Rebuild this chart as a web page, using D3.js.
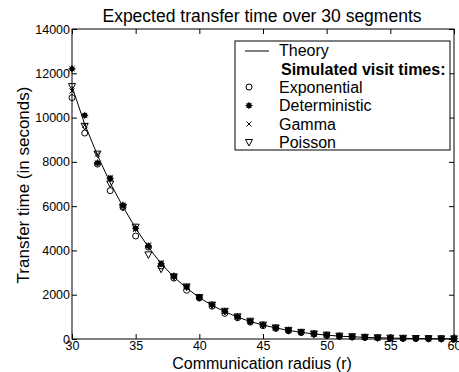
<!DOCTYPE html>
<html>
<head>
<meta charset="utf-8">
<script src="https://cdn.jsdelivr.net/npm/d3@7"></script>
<style>
  body { margin: 0; background: #fff; }
  svg { font-family: "Liberation Sans", Arial, Helvetica, sans-serif; }
  .tick line { stroke: #000; }
  .domain { stroke: none; }
</style>
</head>
<body>
<svg id="chart"></svg>
<script>
// communication radius r
const radius = [30, 31, 32, 33, 34, 35, 36, 37, 38, 39, 40, 41, 42, 43, 44, 45,
  46, 47, 48, 49, 50, 51, 52, 53, 54, 55, 56, 57, 58, 59, 60];

// expected transfer time (s)
const theory = [11400, 9700, 8300, 7050, 5980, 5000, 4150, 3400, 2800, 2300, 1870,
  1520, 1230, 990, 790, 630, 500, 390, 300, 230, 175, 130, 100, 75, 55, 40, 30, 22, 16, 11, 8];
const exponential = [10900, 9300, 7900, 6700, 5950, 4650, 4150, 3300, 2750, 2200, 1850,
  1480, 1160, 960, 760, 600, 480, 370, 290, 220, 160, 125, 95, 70, 52, 38, 28, 20, 15, 10, 7];
const deterministic = [12200, 10100, 7950, 7250, 6050, 5000, 4200, 3400, 2850, 2350, 1880,
  1550, 1250, 1000, 800, 640, 505, 395, 305, 235, 178, 132, 100, 76, 56, 41, 30, 22, 16, 11, 8];
const gamma = [11200, 9650, 8350, 7300, 6000, 4950, 4250, 3450, 2820, 2380, 1900,
  1540, 1240, 1000, 790, 625, 500, 390, 300, 232, 175, 130, 98, 74, 54, 40, 29, 21, 15, 11, 8];
const poisson = [11400, 9600, 8350, 7000, 5950, 5050, 3800, 3150, 2800, 2350, 1870,
  1530, 1250, 1000, 800, 630, 500, 390, 300, 230, 175, 130, 100, 75, 55, 40, 30, 22, 16, 11, 8];

const xTicks = [30, 35, 40, 45, 50, 55, 60];
const yTicks = [0, 2000, 4000, 6000, 8000, 10000, 12000, 14000];

const W = 459, H = 372;
const MARGIN = {left: 72, right: 5, top: 29, bottom: 33};

const svg = d3.select('#chart').attr('width', W).attr('height', H);

const x = d3.scaleLinear().domain([30, 60]).range([MARGIN.left, W - MARGIN.right]);
const y = d3.scaleLinear().domain([0, 14000]).range([H - MARGIN.bottom, MARGIN.top]);

// axes with inward ticks, MATLAB style
svg.append('g')
  .attr('transform', `translate(0,${H - MARGIN.bottom})`)
  .call(d3.axisBottom(x).tickValues(xTicks).tickSizeInner(-5).tickSizeOuter(0).tickPadding(2))
  .attr('font-size', 12.5);
svg.append('g')
  .attr('transform', `translate(0,${MARGIN.top})`)
  .call(d3.axisTop(x).tickValues(xTicks).tickSizeInner(-5).tickSizeOuter(0).tickFormat(''));
svg.append('g')
  .attr('transform', `translate(${MARGIN.left},0)`)
  .call(d3.axisLeft(y).tickValues(yTicks).tickSizeInner(-5).tickSizeOuter(0).tickPadding(2).tickFormat(d3.format('d')))
  .attr('font-size', 12.5);
svg.append('g')
  .attr('transform', `translate(${W - MARGIN.right},0)`)
  .call(d3.axisRight(y).tickValues(yTicks).tickSizeInner(-5).tickSizeOuter(0).tickFormat(''));
svg.selectAll('.tick text').attr('fill', '#000');

svg.append('rect')
  .attr('x', MARGIN.left).attr('y', MARGIN.top)
  .attr('width', W - MARGIN.left - MARGIN.right)
  .attr('height', H - MARGIN.top - MARGIN.bottom)
  .attr('fill', 'none').attr('stroke', '#000').attr('stroke-width', 1);

// theory curve
svg.append('path')
  .datum(radius)
  .attr('fill', 'none').attr('stroke', '#000').attr('stroke-width', 1)
  .attr('d', d3.line().x(r => x(r)).y((r, i) => y(theory[i])));

// marker shapes
const markers = {
  circle: (g) => g.append('circle').attr('r', 3).attr('fill', 'none').attr('stroke', '#000'),
  star: (g) => {
    g.append('circle').attr('r', 2.6).attr('fill', '#000');
    g.append('path').attr('d', 'M-3.5,0H3.5M0,-3.5V3.5M-2.5,-2.5L2.5,2.5M-2.5,2.5L2.5,-2.5')
      .attr('stroke', '#000').attr('stroke-width', 1);
  },
  cross: (g) => g.append('path').attr('d', 'M-2.5,-2.5L2.5,2.5M-2.5,2.5L2.5,-2.5')
    .attr('stroke', '#000').attr('stroke-width', 1),
  tri: (g) => g.append('path').attr('d', 'M-3.5,-3L3.5,-3L0,3.5Z')
    .attr('fill', 'none').attr('stroke', '#000').attr('stroke-width', 1)
};

const sims = [
  {name: 'Exponential', values: exponential, shape: 'circle'},
  {name: 'Deterministic', values: deterministic, shape: 'star'},
  {name: 'Gamma', values: gamma, shape: 'cross'},
  {name: 'Poisson', values: poisson, shape: 'tri'}
];

sims.forEach(s => {
  radius.forEach((r, i) => {
    const g = svg.append('g').attr('transform', `translate(${x(r)},${y(s.values[i])})`);
    markers[s.shape](g);
  });
});

// title and axis labels
svg.append('text').attr('x', 262).attr('y', 22).attr('text-anchor', 'middle')
  .attr('font-size', 17.5).text('Expected transfer time over 30 segments');
svg.append('text').attr('x', 262).attr('y', 369).attr('text-anchor', 'middle')
  .attr('font-size', 16).text('Communication radius (r)');
svg.append('text').attr('transform', 'translate(29,185) rotate(-90)').attr('text-anchor', 'middle')
  .attr('font-size', 17).text('Transfer time (in seconds)');

// legend
const legend = svg.append('g');
legend.append('rect').attr('x', 235).attr('y', 41).attr('width', 215).attr('height', 109)
  .attr('fill', '#fff').attr('stroke', '#000');
legend.append('line').attr('x1', 245).attr('x2', 269).attr('y1', 51).attr('y2', 51).attr('stroke', '#000');
legend.append('text').attr('x', 279).attr('y', 56).attr('font-size', 16).text('Theory');
legend.append('text').attr('x', 281).attr('y', 75).attr('font-size', 16).attr('font-weight', 'bold')
  .text('Simulated visit times:');
sims.forEach((s, i) => {
  const ly = 87 + i * 18.5;
  const g = legend.append('g').attr('transform', `translate(249,${ly})`);
  markers[s.shape](g);
  legend.append('text').attr('x', 279).attr('y', ly + 5.5).attr('font-size', 16).text(s.name);
});
</script>
</body>
</html>
